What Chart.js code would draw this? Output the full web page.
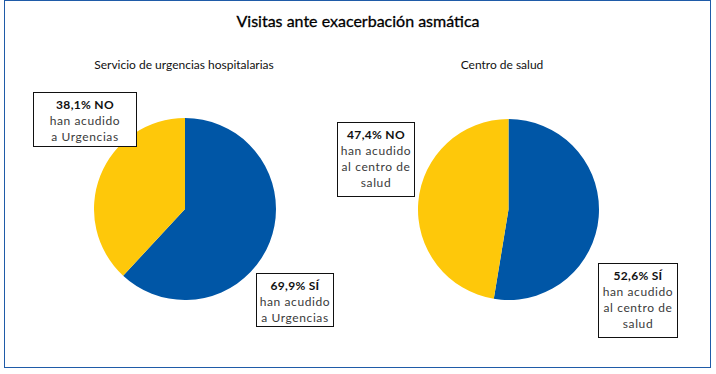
<!DOCTYPE html>
<html>
<head>
<meta charset="utf-8">
<script src="https://cdn.jsdelivr.net/npm/chart.js@4.4.0/dist/chart.umd.min.js"></script>
<style>
  body { margin: 0; width: 716px; height: 374px; background: #fff; font-family: Lato, "Open Sans", sans-serif; color: #000; position: relative; overflow: hidden; }
  .frame { position: absolute; left: 4px; top: 0; width: 705px; height: 366px; border: 1.5px solid #1f5ba8; }
  .title { position: absolute; left: 0; width: 716px; top: 11px; text-align: center; font-size: 16px; font-weight: 400; color: #000; -webkit-text-stroke: 0.3px #000; }
  .sub { position: absolute; top: 57px; font-size: 12px; text-align: center; width: 240px; color: #111; }
  .box { position: absolute; border: 1px solid #111; background: #fff; font-size: 12px; line-height: 16px; text-align: center; letter-spacing: 0.6px; box-sizing: border-box; padding-top: 4px; color: #3a3a3a; }
  .box b { font-weight: 700; color: #111; letter-spacing: 0.3px; }
  canvas { position: absolute; }
</style>
</head>
<body>
<div class="frame"></div>
<div class="title">Visitas ante exacerbación asmática</div>
<div class="sub" id="sub1" style="left:64px"></div>
<div class="sub" id="sub2" style="left:382px"></div>

<canvas id="pie1" width="182" height="182" style="left:94px;top:118px"></canvas>
<canvas id="pie2" width="181" height="181" style="left:418px;top:119px"></canvas>

<div class="box" id="box1" style="left:33px;top:92px;width:104px;height:55px"></div>
<div class="box" id="box2" style="left:256px;top:273px;width:78px;height:54px"></div>
<div class="box" id="box3" style="left:337px;top:122px;width:78px;height:75px"></div>
<div class="box" id="box4" style="left:598px;top:263px;width:80px;height:75px"></div>

<script>
// datos
const subtitles = ["Servicio de urgencias hospitalarias", "Centro de salud"];
const categories = ["Sí han acudido", "No han acudido"];
const urgenciasValues = [61.9, 38.1];
const centroValues = [52.6, 47.4];
const colors = ["#0056a6", "#fec80a"];

// textos de las etiquetas (tal como aparecen)
const box1Lines = ["38,1% NO", "han acudido", "a Urgencias"];
const box2Lines = ["69,9% SÍ", "han acudido", "a Urgencias"];
const box3Lines = ["47,4% NO", "han acudido", "al centro de", "salud"];
const box4Lines = ["52,6% SÍ", "han acudido", "al centro de", "salud"];

document.getElementById("sub1").textContent = subtitles[0];
document.getElementById("sub2").textContent = subtitles[1];

const fillBox = (id, lines) => {
  const el = document.getElementById(id);
  el.innerHTML = "<b>" + lines[0] + "</b><br>" + lines.slice(1).join("<br>");
};
fillBox("box1", box1Lines);
fillBox("box2", box2Lines);
fillBox("box3", box3Lines);
fillBox("box4", box4Lines);

const makePie = (id, values) => {
  new Chart(document.getElementById(id), {
    type: "pie",
    data: {
      labels: categories,
      datasets: [{ data: values, backgroundColor: colors, borderWidth: 0 }],
    },
    options: {
      responsive: false,
      animation: false,
      layout: { padding: 0 },
      plugins: { legend: { display: false }, tooltip: { enabled: false } },
    },
  });
};
makePie("pie1", urgenciasValues);
makePie("pie2", centroValues);
</script>
</body>
</html>
